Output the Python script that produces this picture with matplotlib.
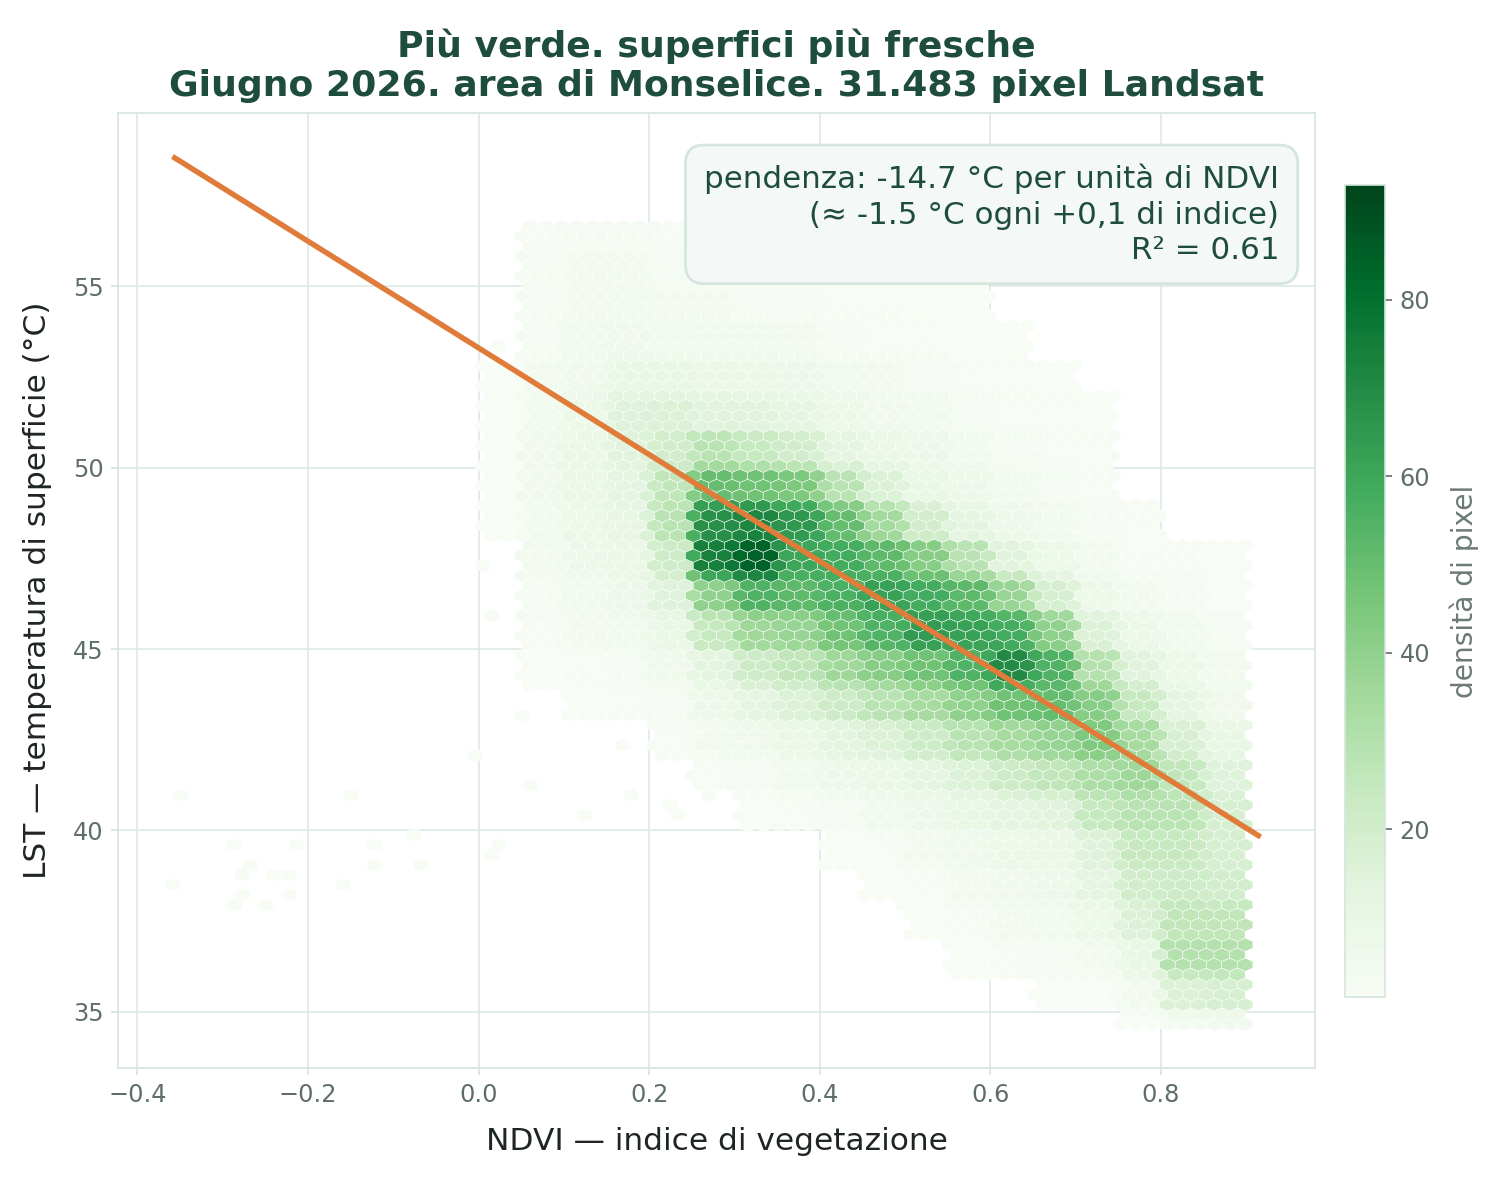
import numpy as np
import matplotlib
matplotlib.use('Agg')
import matplotlib.pyplot as plt

# NDVI columns (left edge, 0.05 wide) and LST rows (lower edge, 1 degC high)
ndvi_bins = [0.00, 0.05, 0.10, 0.15, 0.20, 0.25, 0.30, 0.35, 0.40,
             0.45, 0.50, 0.55, 0.60, 0.65, 0.70, 0.75, 0.80, 0.85]
lst_rows = [56, 55, 54, 53, 52, 51, 50, 49, 48, 47, 46, 45,
            44, 43, 42, 41, 40, 39, 38, 37, 36, 35, 34]

# pixels per hexagon (rows = lst_rows, cols = ndvi_bins)
density = [
    # .00 .05 .10 .15 .20 .25 .30 .35 .40 .45 .50 .55 .60 .65 .70 .75 .80 .85
    [0, 2, 3, 3, 2, 1, 1, 1, 0, 0, 0, 0, 0, 0, 0, 0, 0, 0],          # 56
    [0, 3, 4, 4, 3, 3, 2, 2, 1, 1, 0, 0, 0, 0, 0, 0, 0, 0],          # 55
    [0, 3, 4, 5, 4, 4, 3, 3, 2, 2, 1, 1, 0, 0, 0, 0, 0, 0],          # 54
    [0, 3, 5, 6, 5, 5, 5, 4, 3, 2, 2, 1, 1, 0, 0, 0, 0, 0],          # 53
    [1, 4, 6, 10, 10, 9, 8, 7, 5, 4, 3, 2, 2, 1, 0, 0, 0, 0],        # 52
    [1, 5, 8, 15, 16, 14, 14, 12, 8, 6, 5, 3, 2, 2, 1, 0, 0, 0],     # 51
    [1, 6, 9, 14, 20, 28, 24, 20, 12, 9, 7, 5, 3, 2, 2, 0, 0, 0],    # 50
    [1, 6, 9, 12, 26, 50, 48, 45, 28, 16, 10, 7, 5, 3, 2, 0, 0, 0],  # 49
    [1, 5, 8, 11, 28, 68, 72, 65, 50, 35, 20, 12, 7, 5, 3, 2, 0, 0], # 48
    [0, 4, 7, 9, 22, 74, 84, 60, 58, 52, 42, 28, 14, 8, 4, 2, 2, 1], # 47
    [0, 3, 5, 7, 15, 40, 55, 52, 56, 62, 58, 52, 38, 18, 8, 4, 3, 1],   # 46
    [0, 2, 4, 5, 10, 24, 36, 38, 48, 55, 64, 62, 58, 40, 16, 8, 5, 3],  # 45
    [0, 1, 2, 3, 6, 13, 22, 26, 36, 42, 48, 55, 70, 55, 30, 14, 8, 4],  # 44
    [0, 0, 1, 2, 3, 7, 12, 16, 22, 28, 34, 40, 48, 50, 42, 24, 12, 6],  # 43
    [0, 0, 0, 0, 2, 4, 6, 9, 13, 16, 22, 28, 34, 38, 44, 34, 18, 10],   # 42
    [0, 0, 0, 0, 0, 2, 3, 5, 7, 9, 12, 16, 22, 26, 32, 36, 26, 15],     # 41
    [0, 0, 0, 0, 0, 0, 1, 2, 3, 5, 7, 10, 12, 14, 24, 28, 28, 18],      # 40
    [0, 0, 0, 0, 0, 0, 0, 0, 1, 2, 4, 6, 8, 9, 15, 24, 24, 18],         # 39
    [0, 0, 0, 0, 0, 0, 0, 0, 0, 1, 2, 4, 6, 7, 12, 20, 22, 20],         # 38
    [0, 0, 0, 0, 0, 0, 0, 0, 0, 0, 1, 2, 4, 5, 8, 16, 26, 26],          # 37
    [0, 0, 0, 0, 0, 0, 0, 0, 0, 0, 0, 1, 2, 3, 4, 10, 30, 30],          # 36
    [0, 0, 0, 0, 0, 0, 0, 0, 0, 0, 0, 0, 0, 1, 1, 4, 16, 18],           # 35
    [0, 0, 0, 0, 0, 0, 0, 0, 0, 0, 0, 0, 0, 0, 0, 1, 3, 4],             # 34
]

# isolated pixels outside the main cloud (mostly bare soil / water, NDVI < 0)
tail_ndvi = [-0.347, -0.357, -0.284, -0.275, -0.266, -0.284, -0.275, -0.248,
             -0.239, -0.220, -0.211, -0.220, -0.157, -0.148, -0.121, -0.121,
             -0.075, -0.066, -0.003, 0.016, 0.025, 0.061, 0.050, 0.170,
             0.177, 0.120, 0.220, 0.233, 0.015, 0.010, 0.020, 0.160]
tail_lst = [40.94, 38.44, 39.54, 38.71, 38.99, 37.89, 38.16, 37.89,
            38.74, 38.74, 39.57, 38.16, 38.44, 40.94, 39.54, 38.99,
            39.84, 38.99, 41.90, 39.26, 39.57, 41.20, 43.20, 42.30,
            40.90, 40.40, 40.70, 40.40, 46.10, 47.30, 53.40, 57.00]
tail_count = [1, 1, 1, 2, 1, 1, 1, 1,
              1, 1, 1, 1, 1, 1, 1, 1,
              1, 1, 1, 1, 1, 1, 1, 1,
              1, 1, 1, 1, 2, 1, 1, 1]

# data range of the scene and the linear fit
ndvi_range = (-0.359, 0.917)
lst_range = (34.65, 56.65)
slope = -14.7
intercept = 53.3
r2 = 0.61
density_range = (1, 93)

# sample each table cell on a fine grid, then let hexbin average per hexagon
xs, ys, cs = [], [], []
sub_x = (np.arange(10) + 0.5) * 0.005
sub_y = (np.arange(20) + 0.5) * 0.05
for r, lst0 in enumerate(lst_rows):
    for c, x0 in enumerate(ndvi_bins):
        v = density[r][c]
        if v == 0:
            continue
        gx, gy = np.meshgrid(x0 + sub_x, lst0 + sub_y)
        xs.append(gx.ravel())
        ys.append(gy.ravel())
        cs.append(np.full(gx.size, v, dtype=float))
x = np.concatenate(xs)
y = np.concatenate(ys)
cval = np.concatenate(cs)

DARK_GREEN = '#1e4d3b'
TICK_GREY = '#5f6f68'
PALE = '#d4e5dd'

plt.rcParams['font.family'] = 'DejaVu Sans'
fig = plt.figure(figsize=(10, 7.8667), dpi=150)
ax = fig.add_axes([0.0787, 0.0949, 0.798, 0.8093])
cax = fig.add_axes([0.8967, 0.1551, 0.0267, 0.688])

hex_kw = dict(reduce_C_function=np.mean, gridsize=70, cmap='Greens',
              extent=(ndvi_range[0], ndvi_range[1], lst_range[0], lst_range[1]),
              vmin=density_range[0], vmax=density_range[1],
              linewidths=0.25, edgecolors='white', zorder=2)
hb = ax.hexbin(x, y, C=cval, mincnt=9, **hex_kw)
ax.hexbin(tail_ndvi, tail_lst, C=tail_count, mincnt=1, **hex_kw)

fit_x = np.array(ndvi_range)
ax.plot(fit_x, intercept + slope * fit_x, color='#e07b39', lw=2.6, zorder=3,
        solid_capstyle='butt')

ax.set_xticks([-0.4, -0.2, 0.0, 0.2, 0.4, 0.6, 0.8])
ax.set_yticks([35, 40, 45, 50, 55])
ax.grid(True, color='#dde9e4', lw=0.8)
ax.set_axisbelow(True)
for s in ax.spines.values():
    s.set_color(PALE)
ax.tick_params(colors=PALE, labelcolor=TICK_GREY, labelsize=11.5)

ax.set_xlabel('NDVI — indice di vegetazione', fontsize=15, color='#1f2622',
              labelpad=10)
ax.set_ylabel('LST — temperatura di superficie (°C)', fontsize=15, color='#1f2622',
              labelpad=10)
ax.set_title('Più verde. superfici più fresche\n'
             'Giugno 2026. area di Monselice. 31.483 pixel Landsat',
             fontsize=17.4, fontweight='bold', color=DARK_GREEN, pad=8)

note = (f'pendenza: {slope:.1f} °C per unità di NDVI\n'
        f'(≈ {slope / 10:.1f} °C ogni +0,1 di indice)\n'
        f'R² = {r2:.2f}')
ax.text(0.97, 0.947, note, transform=ax.transAxes, ha='right', va='top',
        fontsize=14.9, color=DARK_GREEN, linespacing=1.28, zorder=5,
        bbox=dict(boxstyle='round,pad=0.6', fc='#f4f8f6', ec=PALE, lw=1.3))

cbar = fig.colorbar(hb, cax=cax)
cbar.outline.set_edgecolor(PALE)
cbar.ax.tick_params(colors=TICK_GREY, labelcolor=TICK_GREY, labelsize=11.5)
cbar.set_label('densità di pixel', color='#6b7a73', fontsize=13.5, labelpad=9)

fig.savefig('out.png', dpi=150)
